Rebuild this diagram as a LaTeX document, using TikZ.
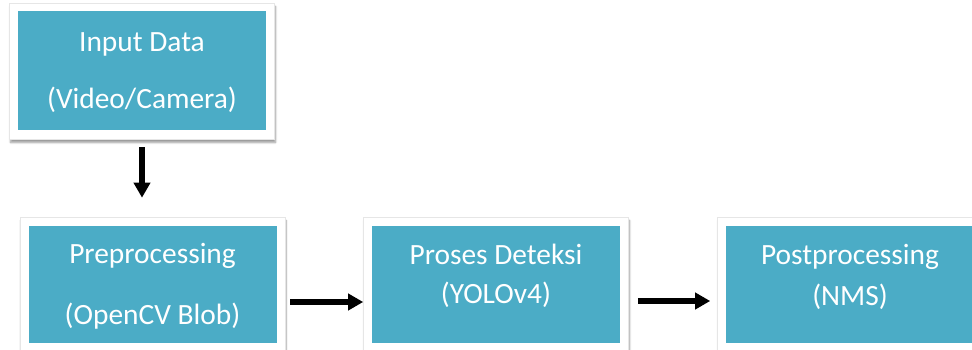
\documentclass[tikz,border=0pt]{standalone}
\usepackage{fontspec}
\setmainfont{Carlito}
\usetikzlibrary{calc,arrows.meta,shadows.blur}
\definecolor{boxteal}{HTML}{4BACC6}
\definecolor{frameedge}{HTML}{E6E6E6}

\begin{document}
\begin{tikzpicture}[x=1pt,y=-1pt,
    stagebox/.style={rectangle,fill=white,draw=frameedge,line width=0.6pt,
      minimum width=265pt,minimum height=134pt,inner sep=0pt,
      text=white,align=center,
      font=\fontsize{29.4}{35}\selectfont,
      blur shadow={shadow xshift=1pt,shadow yshift=-3.5pt,shadow blur steps=6,shadow opacity=40},
      path picture={\fill[boxteal]
        ($(path picture bounding box.south west)+(8.5pt,8.5pt)$) rectangle
        ($(path picture bounding box.north east)+(-8.5pt,-8.5pt)$);}},
    flow/.style={line width=5.5pt,-{Triangle[length=15pt,width=16pt]}}]
    \useasboundingbox (0,0) rectangle (972,350);
    % blocks
    \node[stagebox,minimum height=136pt,text depth=0pt] (input) at (142,71) {Input Data\\[22pt](Video/Camera)};
    \node[stagebox,text depth=0pt] (prep) at (152.5,284) {Preprocessing\\[26pt](OpenCV Blob)};
    \node[stagebox,text depth=20pt] (detect) at (496,284) {Proses Deteksi\\[4pt](YOLOv4)};
    \node[stagebox,text depth=18pt] (post) at (850,284) {Postprocessing\\[6pt](NMS)};
    % arrows
    \draw[flow,shorten <=8pt,shorten >=19pt] (input.south) -- (input.south |- prep.north);
    \draw[flow,shorten <=5pt] ([yshift=-18pt]prep.east) -- ([yshift=-18pt]detect.west);
    \draw[flow,shorten <=9pt,shorten >=7pt] ([yshift=-17pt]detect.east) -- ([yshift=-17pt]post.west);
\end{tikzpicture}
\end{document}
